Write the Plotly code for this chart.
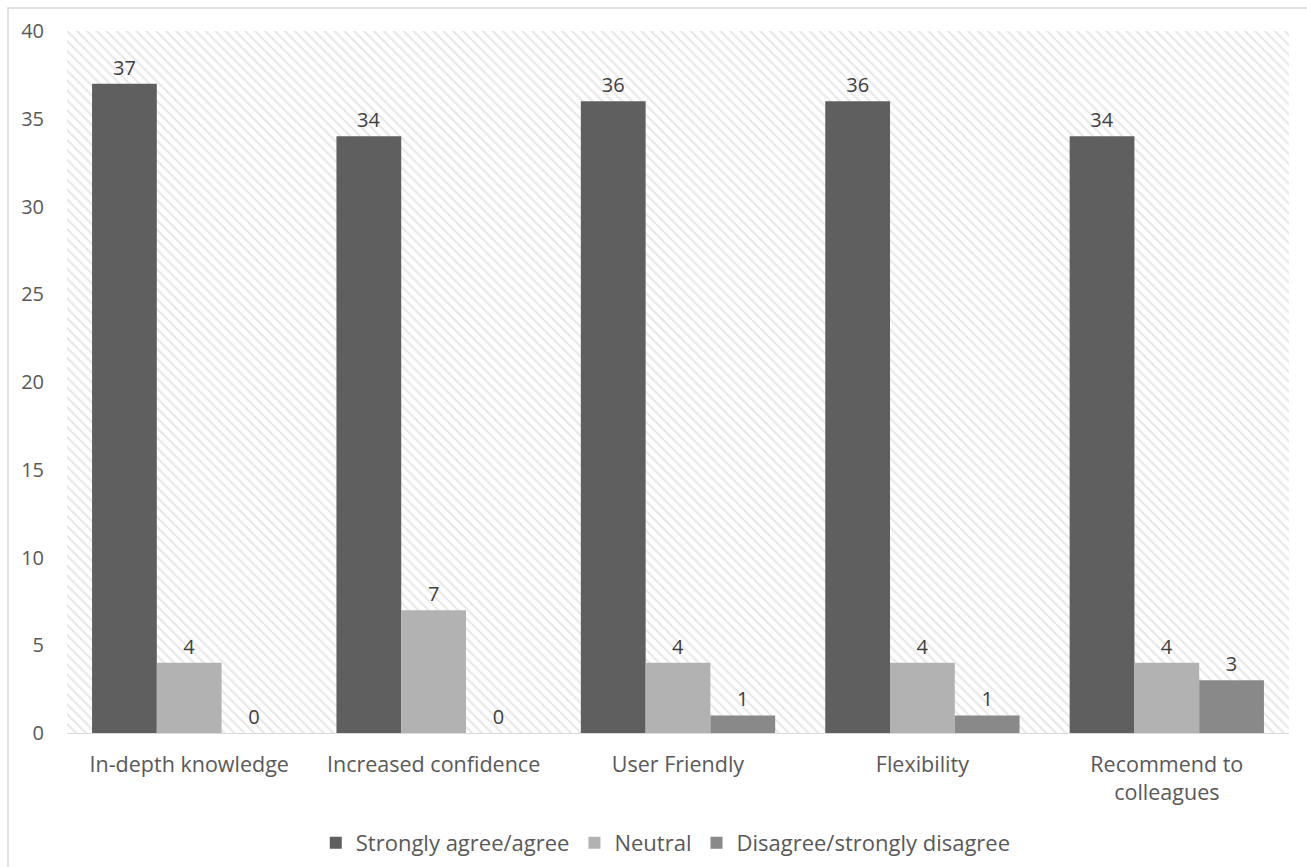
import plotly.graph_objects as go

categories = ["In-depth knowledge", "Increased confidence", "User Friendly", "Flexibility", "Recommend to<br>colleagues"]
series_names = ["Strongly agree/agree", "Neutral", "Disagree/strongly disagree"]
agree = [37, 34, 36, 36, 34]
neutral = [4, 7, 4, 4, 4]
disagree = [0, 0, 1, 1, 3]
colors = ["#5f5f5f", "#b2b2b2", "#898989"]
y_ticks = [0, 5, 10, 15, 20, 25, 30, 35, 40]

W, H = 1307, 867
L, R, T, B = 67, 18, 31, 134
pw, ph = W - L - R, H - T - B
FONT = "Open Sans, Lato, sans-serif"

fig = go.Figure()

# hatched plot-area background (on base axes, drawn below the overlaying data axes)
fig.add_trace(go.Bar(
    x=[0], y=[1], width=[1], xaxis="x", yaxis="y",
    marker=dict(color="white", line=dict(width=0),
                pattern=dict(shape="\\", fgcolor="#d0d0d0", bgcolor="white", size=7, solidity=0.3)),
    showlegend=False, hoverinfo="skip",
))

for name, vals, c in zip(series_names, [agree, neutral, disagree], colors):
    fig.add_trace(go.Bar(
        x=categories, y=vals, name=name, xaxis="x2", yaxis="y2",
        marker=dict(color=c, line=dict(width=0)),
        text=[str(v) for v in vals], textposition="outside", cliponaxis=False,
        textfont=dict(size=20, color="#404040", family=FONT),
    ))

def px_x(p):
    return (p - L) / pw

def px_y(p):
    return (H - B - p) / ph

fig.update_layout(
    width=W, height=H,
    margin=dict(l=L, r=R, t=T, b=B, autoexpand=False),
    paper_bgcolor="white", plot_bgcolor="rgba(0,0,0,0)",
    barmode="group", bargap=0.205, bargroupgap=0,
    font=dict(family=FONT, color="#595959", size=21),
    xaxis=dict(range=[-0.5, 0.5], visible=False, fixedrange=True),
    yaxis=dict(range=[0, 1], visible=False, fixedrange=True),
    xaxis2=dict(overlaying="x", side="bottom", showgrid=False, showline=True,
                linecolor="#d9d9d9", linewidth=1, ticks="", ticklabelstandoff=12,
                tickfont=dict(size=21.5, color="#595959"), zeroline=False),
    yaxis2=dict(overlaying="y", side="left", range=[0, 40], tickvals=y_ticks,
                showgrid=False, zeroline=False, showline=False, ticks="",
                ticklabelstandoff=22, tickfont=dict(size=20, color="#595959")),
    legend=dict(orientation="h", x=0.49, xanchor="center",
                yref="container", y=1 - 843 / H, yanchor="middle",
                font=dict(size=22, color="#595959"), traceorder="normal",
                itemwidth=30),
    shapes=[dict(type="rect", xref="paper", yref="paper",
                 x0=px_x(8), x1=px_x(1330), y0=px_y(890), y1=px_y(8),
                 line=dict(color="#d9d9d9", width=1.5), fillcolor="rgba(0,0,0,0)", layer="below")],
)

fig.write_html("out.html")
